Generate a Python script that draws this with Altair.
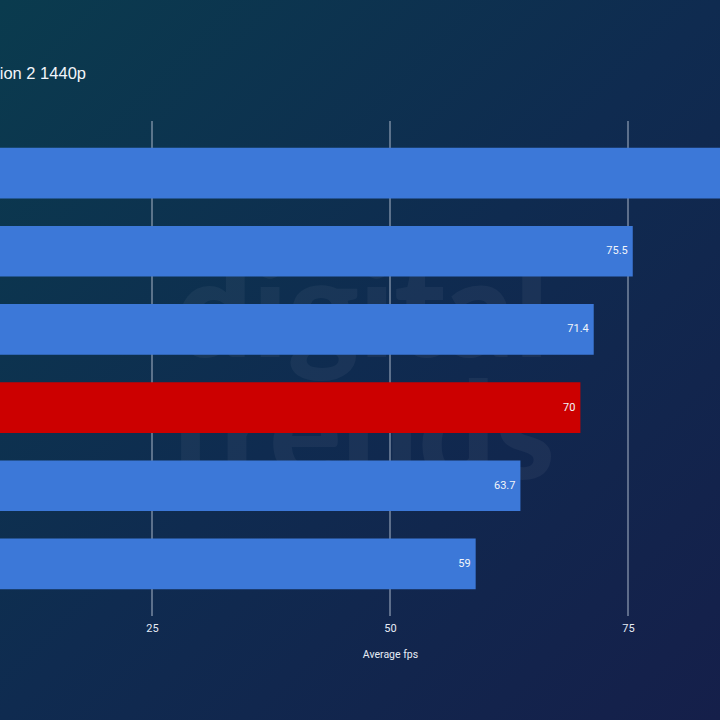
import altair as alt
import pandas as pd

# Benchmark results (average fps), top to bottom
cards = ["Card A", "Card B", "Card C", "Card D", "Card E", "Card F"]
fps = [92.0, 75.5, 71.4, 70.0, 63.7, 59.0]
highlight = [False, False, False, True, False, False]
grid_ticks = [25, 50, 75]

title_text = "Red Dead Redemption 2 1440p"
watermark_words = ["digital", "trends"]

df = pd.DataFrame({"card": cards, "fps": fps, "hl": highlight})
grid_df = pd.DataFrame({"v": grid_ticks})

W, H = 720, 495
x_scale = alt.Scale(domain=[0, 100], range=[-86, 866], nice=False, zero=True)
y_scale = alt.Scale(domain=cards, paddingInner=0.351, paddingOuter=0.342)

gradient = alt.LinearGradient(
    gradient="linear",
    stops=[
        alt.GradientStop(color="#0a3b4e", offset=0),
        alt.GradientStop(color="#0f2b50", offset=0.5),
        alt.GradientStop(color="#151f4a", offset=1),
    ],
    x1=0, y1=0, x2=1, y2=1,
)

background = alt.Chart(pd.DataFrame({"a": [0]})).mark_rect(color=gradient).encode(
    x=alt.value(0), x2=alt.value(720), y=alt.value(-121), y2=alt.value(599)
)


def watermark_line(word, baseline_y):
    return alt.Chart(pd.DataFrame({"t": [word]})).mark_text(
        font="Lato", fontWeight=900, fontSize=135, color="#ffffff", opacity=0.045,
        align="center", baseline="alphabetic",
    ).encode(text="t:N", x=alt.value(362), y=alt.value(baseline_y))


watermark = alt.layer(
    watermark_line(watermark_words[0], 236),
    watermark_line(watermark_words[1], 358),
)

grid = alt.Chart(grid_df).mark_rule(color="#aab6c8", strokeWidth=1).encode(
    x=alt.X("v:Q", scale=x_scale,
            axis=alt.Axis(values=grid_ticks, title="Average fps", grid=False,
                          domain=False, ticks=False, labelPadding=6,
                          labelFontSize=11, labelColor="#e6ecf5",
                          labelFont="Roboto", titleFont="Roboto",
                          titleFontSize=10.5, titleFontWeight="normal",
                          titleColor="#e6ecf5", titlePadding=16, titleX=390,
                          zindex=1)),
    y=alt.value(0), y2=alt.value(H),
)

bars = alt.Chart(df).mark_bar().encode(
    x=alt.X("fps:Q", scale=x_scale),
    y=alt.Y("card:N", scale=y_scale, axis=None, sort=cards),
    color=alt.condition("datum.hl", alt.value("#cc0000"), alt.value("#3c78d8")),
)

labels = alt.Chart(df).mark_text(
    align="right", baseline="middle", dx=-5, fontSize=11, font="Roboto", color="#f2f5fa"
).encode(
    x=alt.X("fps:Q", scale=x_scale),
    y=alt.Y("card:N", scale=y_scale, sort=cards),
    text=alt.Text("fps:Q", format="~r"),
)

title = alt.Chart(pd.DataFrame({"t": [title_text]})).mark_text(
    align="right", baseline="alphabetic", fontSize=16.5, font="Liberation Sans", color="#f2f5fa"
).encode(text="t:N", x=alt.value(86), y=alt.value(-42))

chart = alt.layer(background, watermark, grid, bars, labels, title).properties(
    width=W, height=H,
    autosize=alt.AutoSizeParams(type="none"),
    padding={"left": 0, "top": 121, "right": 0, "bottom": 104},
).configure_view(stroke=None).configure(background="#0f2a4e")

chart.save("out.html", embed_options={"renderer": "svg", "actions": False})
